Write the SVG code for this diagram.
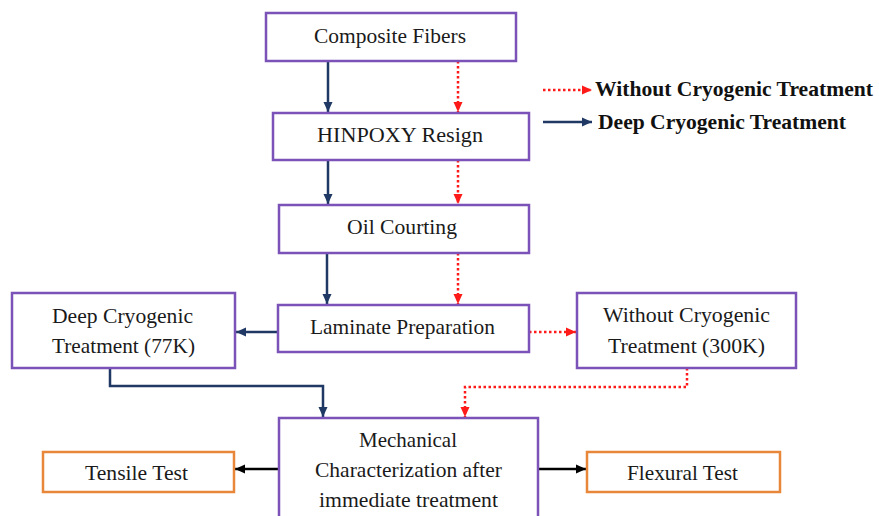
<svg xmlns="http://www.w3.org/2000/svg" width="879" height="516" viewBox="0 0 879 516">
<defs>
<style>
.box{fill:#fff;stroke:#7b52b8;stroke-width:2.5}
.obox{fill:#fff;stroke:#e8873a;stroke-width:2.5}
text{font-family:'Liberation Serif','Times New Roman',serif}
.t{font-size:22px;fill:#1a1a1a}
.lg{font-size:21px;font-weight:bold;fill:#111}
.blue{fill:none;stroke:#1f3864;stroke-width:2.5}
.red{fill:none;stroke:#ff1a1a;stroke-width:2.5;stroke-dasharray:2.5 2.5}
.blk{fill:none;stroke:#000;stroke-width:2.5}
</style>
<marker id="ab" viewBox="0 0 10 10" refX="10" refY="5" markerWidth="4" markerHeight="4" orient="auto" markerUnits="strokeWidth"><path d="M0,0.5L10,5L0,9.5z" fill="#1f3864"/></marker>
<marker id="ar" viewBox="0 0 10 10" refX="10" refY="5" markerWidth="4" markerHeight="4" orient="auto" markerUnits="strokeWidth"><path d="M0,0.5L10,5L0,9.5z" fill="#ff1a1a"/></marker>
<marker id="ak" viewBox="0 0 10 10" refX="10" refY="5" markerWidth="4" markerHeight="4" orient="auto" markerUnits="strokeWidth"><path d="M0,0.5L10,5L0,9.5z" fill="#000"/></marker>
</defs>
<rect width="879" height="516" fill="#fff"/>
<g id="connectors">
<path class="blue" d="M328,61V112" marker-end="url(#ab)"/>
<path class="red" d="M458,61V112" marker-end="url(#ar)"/>
<path class="blue" d="M328,160V204" marker-end="url(#ab)"/>
<path class="red" d="M458,160V204" marker-end="url(#ar)"/>
<path class="blue" d="M327,253V304" marker-end="url(#ab)"/>
<path class="red" d="M458,253V304" marker-end="url(#ar)"/>
<path class="blue" d="M278,332H236" marker-end="url(#ab)"/>
<path class="red" d="M529,332H576" marker-end="url(#ar)"/>
<path class="blue" d="M110,368V386H323V417" marker-end="url(#ab)"/>
<path class="red" d="M687,368V387H465V417" marker-end="url(#ar)"/>
<path class="blk" d="M279,469H235" marker-end="url(#ak)"/>
<path class="blk" d="M538,469H586" marker-end="url(#ak)"/>
</g>
<g id="legend">
<path class="red" d="M543,90H592" marker-end="url(#ar)"/>
<text class="lg" x="595" y="96" textLength="278" lengthAdjust="spacingAndGlyphs">Without Cryogenic Treatment</text>
<path class="blue" d="M543,122H592" marker-end="url(#ab)"/>
<text class="lg" x="598" y="129" textLength="248" lengthAdjust="spacingAndGlyphs">Deep Cryogenic Treatment</text>
</g>
<g id="composite"><rect class="box" x="266" y="13" width="250" height="48"/><text class="t" x="314" y="43" textLength="152" lengthAdjust="spacingAndGlyphs">Composite Fibers</text></g>
<g id="hinpoxy"><rect class="box" x="273" y="113" width="256" height="47"/><text class="t" x="317" y="142" textLength="166" lengthAdjust="spacingAndGlyphs">HINPOXY Resign</text></g>
<g id="oil"><rect class="box" x="279" y="205" width="250" height="48"/><text class="t" x="347" y="234" textLength="110" lengthAdjust="spacingAndGlyphs">Oil Courting</text></g>
<g id="laminate"><rect class="box" x="278" y="305" width="251" height="47"/><text class="t" x="310" y="334" textLength="185" lengthAdjust="spacingAndGlyphs">Laminate Preparation</text></g>
<g id="deep"><rect class="box" x="12" y="293" width="223" height="75"/><text class="t" x="52" y="323" textLength="141" lengthAdjust="spacingAndGlyphs">Deep Cryogenic</text><text class="t" x="52" y="353" textLength="143" lengthAdjust="spacingAndGlyphs">Treatment (77K)</text></g>
<g id="without"><rect class="box" x="577" y="293" width="219" height="75"/><text class="t" x="603" y="322" textLength="167" lengthAdjust="spacingAndGlyphs">Without Cryogenic</text><text class="t" x="608" y="353" textLength="157" lengthAdjust="spacingAndGlyphs">Treatment (300K)</text></g>
<g id="mechanical"><rect class="box" x="279" y="418" width="259" height="110"/><text class="t" x="359" y="447" textLength="98" lengthAdjust="spacingAndGlyphs">Mechanical</text><text class="t" x="315" y="477" textLength="187" lengthAdjust="spacingAndGlyphs">Characterization after</text><text class="t" x="319" y="507" textLength="179" lengthAdjust="spacingAndGlyphs">immediate treatment</text></g>
<g id="tensile"><rect class="obox" x="43" y="452" width="191" height="40"/><text class="t" x="85" y="480" textLength="103" lengthAdjust="spacingAndGlyphs">Tensile Test</text></g>
<g id="flexural"><rect class="obox" x="587" y="452" width="193" height="40"/><text class="t" x="627" y="480" textLength="111" lengthAdjust="spacingAndGlyphs">Flexural Test</text></g>
</svg>
